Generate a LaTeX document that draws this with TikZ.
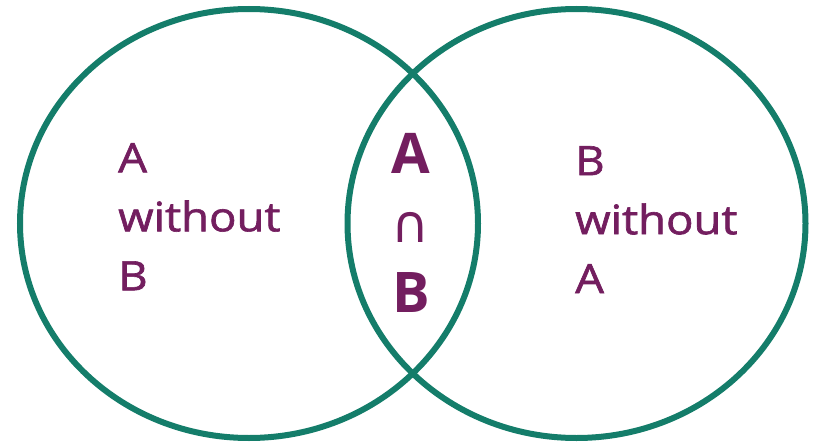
\documentclass[tikz,border=0pt]{standalone}
\usepackage{fontspec}
\setmainfont{Open Sans}
\newfontfamily\sidefont[FakeBold=1.5]{Open Sans}
\newfontfamily\symfont{DejaVu Sans}
\usetikzlibrary{shapes.geometric, positioning}
\definecolor{setteal}{RGB}{20,125,106}
\definecolor{setplum}{RGB}{115,30,95}

\begin{document}
\begin{tikzpicture}[
    x=1pt, y=-1pt,
    ring/.style={draw=setteal, line width=6pt, shape=ellipse, inner sep=0pt,
      minimum width=458pt, minimum height=429pt},
    side/.style={text=setplum, align=left, inner sep=0pt, anchor=north west,
      font=\sidefont\fontsize{40.6}{59}\selectfont, xscale=1.12, transform shape},
    common/.style={text=setplum, align=center, inner sep=0pt, anchor=north,
      font=\fontsize{56}{69.5}\selectfont\bfseries}
  ]
    \useasboundingbox (0,0) rectangle (817,447);
    % the two sets
    \node[ring] (setA) at (249,223.5) {};
    \node[ring] (setB) at (576.5,223.5) {};
    % labels
    \node[side] (onlyA) at (118,143) {A\\without\\B};
    \node[side] (onlyB) at (575,146) {B\\without\\A};
    \node[common] (both) at (411,133)
    {A\\{\symfont\mdseries\fontsize{52}{52}\selectfont ∩}\\B};
\end{tikzpicture}
\end{document}
